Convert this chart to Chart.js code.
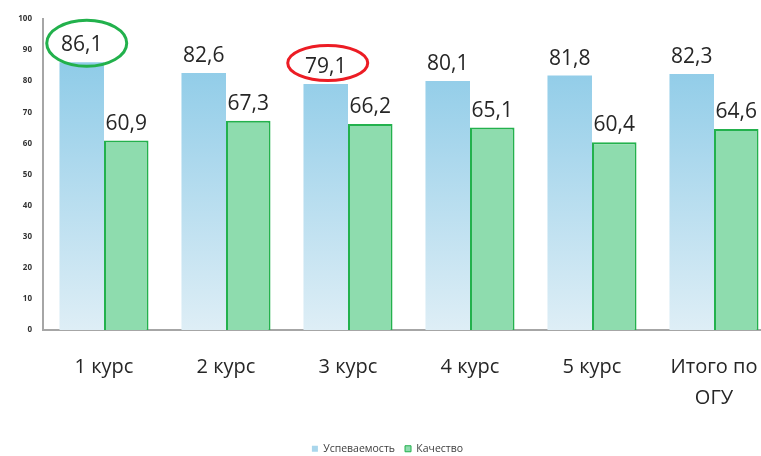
<!DOCTYPE html>
<html>
<head>
<meta charset="utf-8">
<script src="https://cdn.jsdelivr.net/npm/chart.js@4.4.1/dist/chart.umd.min.js"></script>
<style>
html,body{margin:0;padding:0;background:#fff;overflow:hidden;}
#wrap{width:790px;height:456px;position:relative;}
</style>
</head>
<body>
<div id="wrap"><canvas id="c"></canvas></div>
<script>
const categories = ['1 курс', '2 курс', '3 курс', '4 курс', '5 курс', ['Итого по', 'ОГУ']];
const seriesNames = ['Успеваемость', 'Качество'];
const uspevaemost = [86.1, 82.6, 79.1, 80.1, 81.8, 82.3];
const kachestvo = [60.9, 67.3, 66.2, 65.1, 60.4, 64.6];
const yTicks = [0, 10, 20, 30, 40, 50, 60, 70, 80, 90, 100];
// highlighted labels: [datasetIndex, categoryIndex, colour]
const highlights = [[0, 0, '#22b14c'], [0, 2, '#ec1c24']];

const fmt = v => v.toFixed(1).replace('.', ',');

function blueGradient(ctx) {
  const chart = ctx.chart;
  const area = chart.chartArea;
  if (!area) return '#a9d6ec';
  const y = chart.scales.y;
  const g = chart.ctx.createLinearGradient(0, y.getPixelForValue(0), 0, y.getPixelForValue(85));
  g.addColorStop(0, '#deeef6');
  g.addColorStop(1, '#90cce8');
  return g;
}

const labelPlugin = {
  id: 'valLabels',
  afterDatasetsDraw(chart) {
    const ctx = chart.ctx;
    ctx.save();
    ctx.font = '21px "Open Sans"';
    ctx.fillStyle = '#262626';
    ctx.textAlign = 'center';
    ctx.textBaseline = 'alphabetic';
    chart.data.datasets.forEach((ds, di) => {
      const meta = chart.getDatasetMeta(di);
      meta.data.forEach((bar, i) => {
        ctx.fillText(fmt(ds.data[i]), bar.x, bar.y - 11);
      });
    });
    highlights.forEach(([di, i, col]) => {
      const bar = chart.getDatasetMeta(di).data[i];
      const big = i === 0;
      ctx.beginPath();
      ctx.lineWidth = 3;
      ctx.strokeStyle = col;
      const cx = bar.x + (big ? 5 : 2);
      const cy = bar.y - (big ? 19 : 21);
      ctx.ellipse(cx, cy, 40, big ? 23 : 17.5, 0, 0, Math.PI * 2);
      ctx.stroke();
    });
    ctx.restore();
  }
};

new Chart(document.getElementById('c'), {
  type: 'bar',
  data: {
    labels: categories,
    datasets: [
      {
        label: seriesNames[0],
        data: uspevaemost,
        backgroundColor: blueGradient,
        borderWidth: 0,
        categoryPercentage: 0.73,
        barPercentage: 1.0
      },
      {
        label: seriesNames[1],
        data: kachestvo,
        backgroundColor: '#8edcae',
        borderColor: '#23b14d',
        borderWidth: 2,
        categoryPercentage: 0.73,
        barPercentage: 1.0
      }
    ]
  },
  options: {
    responsive: true,
    maintainAspectRatio: false,
    animation: false,
    layout: { padding: { top: 19, left: 0, right: 15, bottom: -8 } },
    plugins: {
      tooltip: { enabled: false },
      legend: {
        position: 'bottom',
        labels: {
          boxWidth: 6,
          boxHeight: 6,
          padding: 10,
          color: '#404040',
          font: { size: 10.5, family: 'Open Sans' },
          generateLabels(chart) {
            return [
              { text: seriesNames[0], fillStyle: '#a9d6ec', strokeStyle: '#a9d6ec', lineWidth: 0, datasetIndex: 0, fontColor: '#404040' },
              { text: seriesNames[1], fillStyle: '#8edcae', strokeStyle: '#23b14d', lineWidth: 1, datasetIndex: 1, fontColor: '#404040' }
            ];
          }
        }
      }
    },
    scales: {
      x: {
        grid: { display: false, drawTicks: false },
        border: { display: true, color: '#a6a6a6', width: 2 },
        ticks: {
          color: '#262626',
          padding: 22,
          maxRotation: 0,
          autoSkip: false,
          font: { size: 20, family: 'Open Sans', lineHeight: 1.55 }
        },
        afterFit(s) { s.height = 103.5; }
      },
      y: {
        min: 0,
        max: 100,
        afterBuildTicks(s) { s.ticks = yTicks.map(v => ({ value: v })); },
        grid: { display: false, drawTicks: false },
        border: { display: true, color: '#a6a6a6', width: 2 },
        ticks: {
          color: '#333',
          padding: 11,
          font: { size: 8, family: 'Open Sans', weight: 'bold' }
        },
        afterFit(s) { s.width = 43; }
      }
    }
  },
  plugins: [labelPlugin]
});
</script>
</body>
</html>
